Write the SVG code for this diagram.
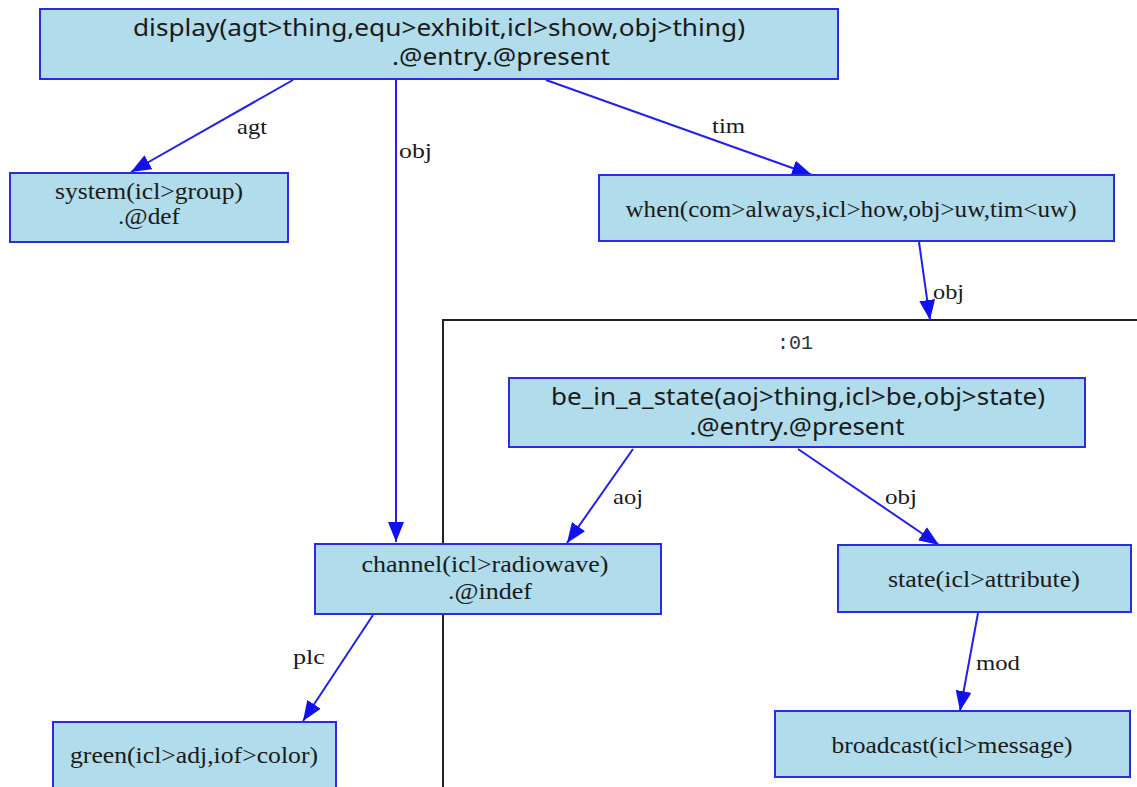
<svg xmlns="http://www.w3.org/2000/svg" width="1137" height="787" viewBox="0 0 1137 787">
<style>
.node rect{fill:#b0dcec;stroke:#2b2be6;stroke-width:2}
.sans{font-family:"Noto Sans","DejaVu Sans",sans-serif;font-size:23px;fill:#1a1a1a;text-anchor:middle}
.ser{font-family:"Liberation Serif",serif;font-size:22.5px;fill:#1a1a1a;text-anchor:middle}
.lbl{font-family:"Liberation Serif",serif;font-size:21.5px;fill:#1a1a1a}
.edge line{stroke:#2020f0;stroke-width:2}
.mono{font-family:"Liberation Mono",monospace;font-size:20px;fill:#333;text-anchor:middle}
</style>
<defs>
<marker id="arr" markerUnits="userSpaceOnUse" markerWidth="20" markerHeight="16" viewBox="0 0 20 16" refX="20" refY="8" orient="auto">
<polygon points="0,0 20,8 0,16" fill="#1010f0"/>
</marker>
</defs>
<rect width="1137" height="787" fill="#fff"/>
<g id="cluster01">
<path d="M443,787 V320 H1137" fill="none" stroke="#222" stroke-width="2"/>
<text class="mono" x="795" y="349">:01</text>
</g>
<g id="edges" class="edge">
<line x1="293" y1="80" x2="131" y2="172" marker-end="url(#arr)"/>
<text class="lbl" x="237" y="134" textLength="30" lengthAdjust="spacingAndGlyphs">agt</text>
<line x1="396" y1="80" x2="396" y2="542" marker-end="url(#arr)"/>
<text class="lbl" x="399" y="158" textLength="33" lengthAdjust="spacingAndGlyphs">obj</text>
<line x1="546" y1="80" x2="812" y2="175" marker-end="url(#arr)"/>
<text class="lbl" x="712" y="133" textLength="33" lengthAdjust="spacingAndGlyphs">tim</text>
<line x1="919" y1="242" x2="930" y2="320" marker-end="url(#arr)"/>
<text class="lbl" x="933" y="299" textLength="31" lengthAdjust="spacingAndGlyphs">obj</text>
<line x1="633" y1="449" x2="567" y2="543" marker-end="url(#arr)"/>
<text class="lbl" x="613" y="504" textLength="30" lengthAdjust="spacingAndGlyphs">aoj</text>
<line x1="798" y1="449" x2="939" y2="545" marker-end="url(#arr)"/>
<text class="lbl" x="885" y="504" textLength="32" lengthAdjust="spacingAndGlyphs">obj</text>
<line x1="373" y1="615" x2="303" y2="721" marker-end="url(#arr)"/>
<text class="lbl" x="293" y="664" textLength="32" lengthAdjust="spacingAndGlyphs">plc</text>
<line x1="978" y1="613" x2="960" y2="711" marker-end="url(#arr)"/>
<text class="lbl" x="976" y="670" textLength="44" lengthAdjust="spacingAndGlyphs">mod</text>
</g>
<g id="display" class="node">
<rect x="40" y="9" width="798" height="70"/>
<text class="sans" x="439" y="36" textLength="612" lengthAdjust="spacingAndGlyphs">display(agt&gt;thing,equ&gt;exhibit,icl&gt;show,obj&gt;thing)</text>
<text class="sans" x="501" y="65" textLength="218" lengthAdjust="spacingAndGlyphs">.@entry.@present</text>
</g>
<g id="system" class="node">
<rect x="10" y="173" width="278" height="69"/>
<text class="ser" x="149" y="199" textLength="188" lengthAdjust="spacingAndGlyphs">system(icl&gt;group)</text>
<text class="ser" x="149" y="224" textLength="62" lengthAdjust="spacingAndGlyphs">.@def</text>
</g>
<g id="when" class="node">
<rect x="599" y="175" width="515" height="66"/>
<text class="ser" x="851" y="217" textLength="451" lengthAdjust="spacingAndGlyphs">when(com&gt;always,icl&gt;how,obj&gt;uw,tim&lt;uw)</text>
</g>
<g id="be_in_a_state" class="node">
<rect x="509" y="378" width="576" height="69"/>
<text class="sans" x="798" y="405" textLength="494" lengthAdjust="spacingAndGlyphs">be_in_a_state(aoj&gt;thing,icl&gt;be,obj&gt;state)</text>
<text class="sans" x="797" y="435" textLength="215" lengthAdjust="spacingAndGlyphs">.@entry.@present</text>
</g>
<g id="channel" class="node">
<rect x="315" y="544" width="346" height="70"/>
<text class="ser" x="485" y="572" textLength="247" lengthAdjust="spacingAndGlyphs">channel(icl&gt;radiowave)</text>
<text class="ser" x="490" y="599" textLength="84" lengthAdjust="spacingAndGlyphs">.@indef</text>
</g>
<g id="state" class="node">
<rect x="838" y="545" width="293" height="67"/>
<text class="ser" x="984" y="587" textLength="192" lengthAdjust="spacingAndGlyphs">state(icl&gt;attribute)</text>
</g>
<g id="broadcast" class="node">
<rect x="775" y="711" width="355" height="66"/>
<text class="ser" x="952" y="753" textLength="241" lengthAdjust="spacingAndGlyphs">broadcast(icl&gt;message)</text>
</g>
<g id="green" class="node">
<rect x="53" y="722" width="283" height="75"/>
<text class="ser" x="194" y="763" textLength="248" lengthAdjust="spacingAndGlyphs">green(icl&gt;adj,iof&gt;color)</text>
</g>
</svg>
